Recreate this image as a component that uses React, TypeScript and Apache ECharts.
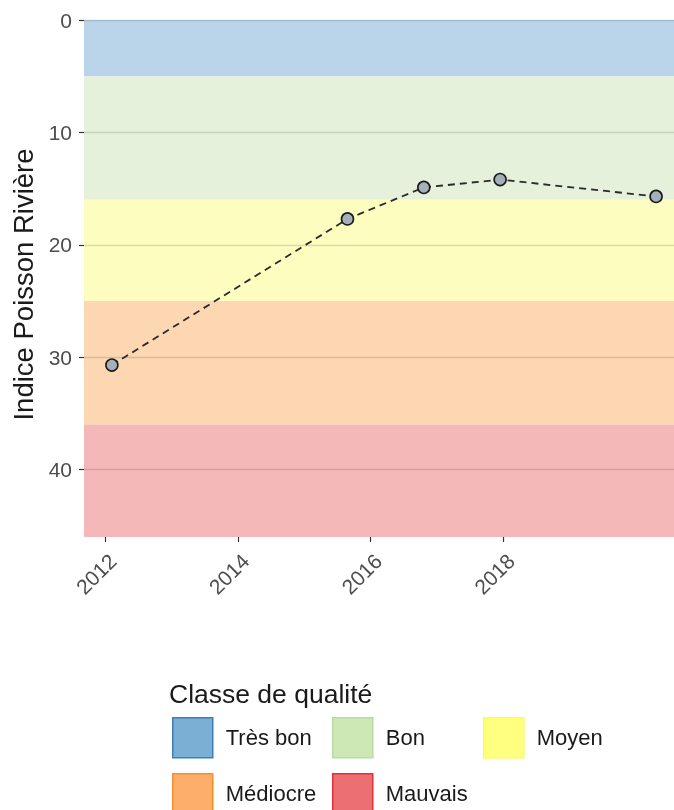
import React, { useEffect, useRef } from "react";
import * as echarts from "echarts";

// Quality classes (bands on the y axis, reversed)
const classNames = ["Très bon", "Bon", "Moyen", "Médiocre", "Mauvais"];
const classLower = [0, 5, 16, 25, 36];
const classUpper = [5, 16, 25, 36, 46];
const classFill = ["#7bafd4", "#cde8b5", "#ffff80", "#fdae6b", "#eb6f73"];
const classBorder = ["#3d80b5", "#b8dca0", "#ffff40", "#f98d2e", "#e0303c"];
const bandColors = ["#bad5e9", "#e6f1dc", "#fefdc0", "#fdd7b1", "#f5b8b9"];

// Legend grid: column and row of each class key
const legendCol = [0, 1, 2, 0, 1];
const legendRow = [0, 0, 0, 1, 1];

// Observations
const years = [2012.1, 2015.65, 2016.8, 2017.95, 2020.3];
const indexValues = [30.7, 17.7, 14.9, 14.2, 15.7];

// Ticks
const xTicks = [2012, 2014, 2016, 2018];
const yTicks = [0, 10, 20, 30, 40];

const FONT = "Liberation Sans, Arial, sans-serif";

export default function App() {
  const ref = useRef<HTMLDivElement>(null);

  useEffect(() => {
    if (!ref.current) return;
    const chart = echarts.init(ref.current, null, { renderer: "svg" });

    const bandData = classNames.map((_, i) => [
      { yAxis: classLower[i], itemStyle: { color: bandColors[i] } },
      { yAxis: classUpper[i] },
    ]);

    const legendSeries = classNames.map((name, i) => ({
      name,
      type: "bar",
      data: [],
      itemStyle: { color: classFill[i], borderColor: classBorder[i], borderWidth: 1.5 },
    }));

    const colLefts = [172, 332, 483];
    const rowTops = [717, 773];
    const legends = classNames.map((name, i) => ({
      left: colLefts[legendCol[i]],
      top: rowTops[legendRow[i]],
      orient: "horizontal",
      itemWidth: 40,
      itemHeight: 40,
      icon: "rect",
      selectedMode: false,
      padding: 0,
      textStyle: {
        fontSize: 22,
        color: "#1a1a1a",
        fontFamily: FONT,
        padding: [0, 0, 0, 8],
      },
      data: [
        {
          name,
          itemStyle: { color: classFill[i], borderColor: classBorder[i], borderWidth: 1.5 },
        },
      ],
    }));

    chart.setOption({
      animation: false,
      textStyle: { fontFamily: FONT },
      title: {
        text: "Classe de qualité",
        left: 169,
        top: 680,
        padding: 0,
        textStyle: { fontSize: 26.5, fontWeight: "normal", color: "#1a1a1a", fontFamily: FONT },
      },
      legend: legends,
      grid: { left: 84, right: 0, top: 20, bottom: 273, containLabel: false },
      xAxis: {
        type: "value",
        position: "bottom",
        min: 2011.68,
        max: 2020.57,
        axisLine: { show: false, onZero: false },
        axisTick: {
          show: true,
          length: 5,
          customValues: xTicks,
          lineStyle: { color: "#333333", width: 1.2 },
        },
        axisLabel: {
          customValues: xTicks,
          rotate: 45,
          fontSize: 21,
          color: "#4d4d4d",
          margin: 13,
          verticalAlign: "top",
          fontFamily: FONT,
          formatter: (v: number) => String(Math.round(v)),
        },
        splitLine: { show: false },
      },
      yAxis: {
        type: "value",
        inverse: true,
        min: 0,
        max: 46,
        name: "Indice Poisson Rivière",
        nameLocation: "middle",
        nameGap: 43,
        nameTextStyle: {
          fontSize: 27.5,
          color: "#1a1a1a",
          fontFamily: FONT,
          padding: [0, 12, 0, 0],
        },
        axisLine: { show: false, onZero: false },
        axisTick: {
          show: true,
          length: 5,
          customValues: yTicks,
          lineStyle: { color: "#333333", width: 1.2 },
        },
        axisLabel: {
          customValues: yTicks,
          fontSize: 21,
          color: "#4d4d4d",
          margin: 12,
          fontFamily: FONT,
        },
        splitLine: { show: false },
      },
      series: [
        ...legendSeries,
        {
          name: "Indice",
          type: "line",
          z: 3,
          data: years.map((y, i) => [y, indexValues[i]]),
          lineStyle: { color: "#2a2a2a", width: 1.8, type: [7, 5] },
          symbol: "circle",
          symbolSize: 12,
          itemStyle: { color: "#a6b0ba", borderColor: "#1a1a1a", borderWidth: 1.6 },
          markArea: {
            silent: true,
            z: 0,
            data: bandData,
          },
          markLine: {
            silent: true,
            z: 1,
            symbol: ["none", "none"],
            label: { show: false },
            lineStyle: { color: "rgba(60,60,60,0.18)", width: 1.4, type: "solid" },
            data: yTicks.map((t) => ({ yAxis: t })),
          },
        },
      ],
    });

    return () => chart.dispose();
  }, []);

  return (
    <div
      ref={ref}
      style={{ position: "fixed", left: 0, top: 0, width: 674, height: 810 }}
    />
  );
}
